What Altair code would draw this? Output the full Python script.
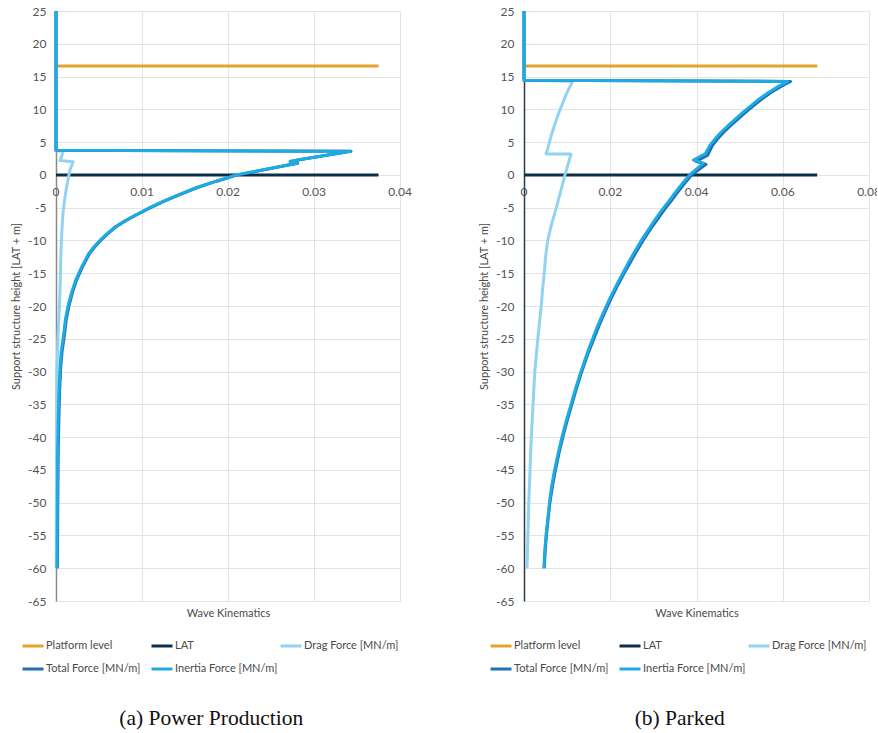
import altair as alt
import pandas as pd

SERIES = ["Platform level", "LAT", "Drag Force [MN/m]", "Total Force [MN/m]", "Inertia Force [MN/m]"]
COLORS = ["#E2A42B", "#0D3049", "#93D3F2", "#1F6FB4", "#1EAAE2"]

# ---------------- (a) Power Production ----------------
pp_platform_x = [0.0, 0.0375]
pp_platform_y = [16.6, 16.6]
pp_lat_x = [0.0, 0.0375]
pp_lat_y = [0.0, 0.0]

pp_drag_y = [25, 3.7, 3.6, 2.2, 2.0, 0.8, -0.5, -2, -3.3, -6, -9, -12.5, -16, -20, -25, -30,
             -40, -50, -60]
pp_drag_x = [0, 0, 0.00085, 0.00047, 0.0020, 0.00163, 0.00143, 0.00122, 0.00105, 0.0008,
             0.00066, 0.00056, 0.0005, 0.0004, 0.00022, 0.0001, 0.00006, 0.00004, 0.00003]

pp_inertia_y = [25, 3.75, 3.6, 3.0, 2.3, 2.04, 1.78, 1.0, 0, -1, -2, -3, -4, -5, -6, -7, -8,
                -9, -10, -11, -12, -13, -14, -16, -18, -20, -22, -24.7, -27, -29.3, -33, -37,
                -42, -50, -60]
pp_inertia_x = [0, 0, 0.0342, 0.0314, 0.0282, 0.0272, 0.0280, 0.0250, 0.0210, 0.0185, 0.0162,
                0.0143, 0.0125, 0.0109, 0.0094, 0.0080, 0.0068, 0.0059, 0.0051, 0.0044,
                0.0038, 0.0034, 0.0030, 0.0023, 0.0018, 0.0014, 0.0011, 0.00085, 0.0006,
                0.00047, 0.00035, 0.00027, 0.00020, 0.00016, 0.00012]

pp_total_y = [25, 3.75, 3.6, 3.0, 2.3, 2.04, 1.78, 1.0, 0, -1, -2, -3, -4, -5, -6, -7, -8,
              -9, -10, -11, -12, -13, -14, -16, -18, -20, -22, -24.7, -27, -29.3, -33, -37,
              -42, -50, -60]
pp_total_x = [0, 0, 0.0343, 0.0315, 0.0283, 0.0273, 0.0281, 0.0251, 0.0211, 0.0186, 0.0163,
              0.0144, 0.0126, 0.0110, 0.0095, 0.0081, 0.0069, 0.0060, 0.0052, 0.0045,
              0.0039, 0.0035, 0.0031, 0.0024, 0.0019, 0.0015, 0.0012, 0.00095, 0.0007,
              0.00055, 0.00042, 0.00034, 0.00026, 0.00021, 0.00017]

pp_ticks = [0, 0.01, 0.02, 0.03, 0.04]
pp_tick_labels = ["0", "0.01", "0.02", "0.03", "0.04"]

# ---------------- (b) Parked ----------------
pk_platform_x = [0.0, 0.068]
pk_platform_y = [16.6, 16.6]
pk_lat_x = [0.0, 0.068]
pk_lat_y = [0.0, 0.0]

pk_drag_y = [25, 14.45, 14.3, 13, 12, 11, 10, 9, 8, 7, 6, 5, 4, 3.2, 3.2, 2, 0, -2.5, -5,
             -7.5, -10, -12.5, -15, -17.5, -20, -25, -30, -35, -40, -45, -50, -55, -60]
pk_drag_x = [0, 0, 0.0113, 0.0103, 0.0096, 0.0090, 0.0084, 0.0078, 0.0073, 0.0068, 0.0063,
             0.0059, 0.0055, 0.0051, 0.0109, 0.0104, 0.0095, 0.0085, 0.0075, 0.0064, 0.0055,
             0.0050, 0.0047, 0.0043, 0.0040, 0.0032, 0.0025, 0.0021, 0.0017, 0.0014, 0.0011,
             0.0009, 0.0007]

pk_inertia_y = [25, 14.45, 14.25, 13.5, 12.5, 11.5, 10.5, 9.5, 8.5, 7.5, 6.5, 5.5, 4.5, 3.2,
                2.27, 1.8, 0, -1, -2, -3, -4, -5, -6, -7, -8, -9, -10, -11, -12, -13.5, -15,
                -17, -19, -21, -23, -25, -27.5, -30, -32.5, -35, -37.5, -40, -42.5, -45,
                -47.5, -50, -52.5, -55, -57.5, -60]
pk_inertia_x = [0, 0, 0.0612, 0.0590, 0.0565, 0.0544, 0.0525, 0.0507, 0.0490, 0.0473, 0.0457,
                0.0443, 0.0431, 0.0420, 0.0393, 0.0416, 0.0384, 0.0371, 0.0359, 0.0347,
                0.0336, 0.0324, 0.0313, 0.0302, 0.0292, 0.0282, 0.0272, 0.0263, 0.0254,
                0.0241, 0.0229, 0.0213, 0.0198, 0.0184, 0.0171, 0.0159, 0.0145, 0.0132,
                0.0120, 0.0109, 0.0098, 0.0088, 0.0079, 0.0071, 0.0064, 0.0059, 0.0055,
                0.0051, 0.0048, 0.0046]

pk_total_y = [25, 14.45, 14.25, 13.5, 12.5, 11.5, 10.5, 9.5, 8.5, 7.5, 6.5, 5.5, 4.5, 3.0,
              2.07, 1.6, 0, -1, -2, -3, -4, -5, -6, -7, -8, -9, -10, -11, -12, -13.5, -15,
              -17, -19, -21, -23, -25, -27.5, -30, -32.5, -35, -37.5, -40, -42.5, -45,
              -47.5, -50, -52.5, -55, -57.5, -60]
pk_total_x = [0, 0, 0.0618, 0.0596, 0.0571, 0.0550, 0.0531, 0.0513, 0.0496, 0.0479, 0.0463,
              0.0449, 0.0437, 0.0426, 0.0399, 0.0422, 0.0389, 0.0376, 0.0364, 0.0352,
              0.0341, 0.0329, 0.0318, 0.0307, 0.0296, 0.0286, 0.0276, 0.0267, 0.0258,
              0.0245, 0.0232, 0.0216, 0.0201, 0.0187, 0.0174, 0.0162, 0.0147, 0.0134,
              0.0122, 0.0111, 0.0100, 0.0090, 0.0081, 0.0073, 0.0066, 0.0060, 0.0056,
              0.0052, 0.0049, 0.0047]

pk_ticks = [0, 0.02, 0.04, 0.06, 0.08]
pk_tick_labels = ["0", "0.02", "0.04", "0.06", "0.08"]

Y_TICKS = list(range(-65, 30, 5))


def frame(parts):
    rows = []
    for name, xs, ys in parts:
        for i, (xv, yv) in enumerate(zip(xs, ys)):
            rows.append({"series": name, "force": xv, "height": yv, "idx": i})
    return pd.DataFrame(rows)


def panel(data, ticks, tick_labels, xmax, caption, axis_color, width, height):
    x_enc = alt.X(
        "force:Q",
        scale=alt.Scale(domain=[0, xmax], nice=False, zero=True),
        axis=alt.Axis(values=ticks, grid=True, labels=False, ticks=False, domain=False,
                      title="Wave Kinematics", titleFontSize=11, titleFontWeight="normal",
                      titleColor="#4A4A4A", titlePadding=6, gridColor="#E3E3E3"),
    )
    y_enc = alt.Y(
        "height:Q",
        scale=alt.Scale(domain=[-65, 25], nice=False),
        axis=alt.Axis(values=Y_TICKS, grid=True, ticks=False, domain=True,
                      domainColor=axis_color, domainWidth=1.5, labelOverlap=False,
                      labelExpr="datum.value < 0 ? '-' + abs(datum.value) : '' + datum.value",
                      labelFontSize=12, labelColor="#555555", labelPadding=10,
                      title="Support structure height [LAT + m]", titleFontSize=11,
                      titleFontWeight="normal", titleColor="#4A4A4A", titlePadding=6,
                      gridColor="#E3E3E3"),
    )

    lines = alt.Chart(data).mark_line(strokeWidth=3, strokeJoin="round").encode(
        color=alt.Color("series:N", sort=SERIES,
                        scale=alt.Scale(domain=SERIES, range=COLORS),
                        legend=alt.Legend(title=None, orient="none", legendX=-35,
                                          legendY=height + 33, columns=3, direction="horizontal",
                                          gridAlign="all", symbolType="stroke", symbolSize=441,
                                          symbolStrokeWidth=3, labelFontSize=11,
                                          labelColor="#4A4A4A", labelOffset=1,
                                          columnPadding=-4, rowPadding=5)),
        order=alt.Order("idx:Q"),
    )

    tick_df = pd.DataFrame({"force": ticks, "label": tick_labels, "height": [0.0] * len(ticks)})
    labels = alt.Chart(tick_df).mark_text(fontSize=12, color="#555555", dy=17).encode(
        text="label:N",
    )

    return alt.layer(lines, labels).encode(x=x_enc, y=y_enc).properties(
        width=width, height=height,
        title=alt.TitleParams(caption, orient="bottom", anchor="middle", frame="bounds",
                              font="Liberation Serif", fontSize=21.5, fontWeight="normal",
                              color="#111111", offset=33),
    )


pp = frame([
    ("Platform level", pp_platform_x, pp_platform_y),
    ("LAT", pp_lat_x, pp_lat_y),
    ("Drag Force [MN/m]", pp_drag_x, pp_drag_y),
    ("Total Force [MN/m]", pp_total_x, pp_total_y),
    ("Inertia Force [MN/m]", pp_inertia_x, pp_inertia_y),
])
pk = frame([
    ("Platform level", pk_platform_x, pk_platform_y),
    ("LAT", pk_lat_x, pk_lat_y),
    ("Drag Force [MN/m]", pk_drag_x, pk_drag_y),
    ("Total Force [MN/m]", pk_total_x, pk_total_y),
    ("Inertia Force [MN/m]", pk_inertia_x, pk_inertia_y),
])

left = panel(pp, pp_ticks, pp_tick_labels, 0.04, "(a) Power Production", "#8A8A8A", 344, 590)
right = panel(pk, pk_ticks, pk_tick_labels, 0.08, "(b) Parked", "#2E3B46", 345, 590)

chart = alt.hconcat(left, right, spacing=66).resolve_scale(color="independent").properties(
    padding={"left": 10, "top": 5, "right": -4, "bottom": 0},
).configure(font="Lato").configure_view(stroke=None).configure_axisY(labelOverlap=False)

chart.save("out.html", embed_options={"renderer": "svg", "actions": False})
